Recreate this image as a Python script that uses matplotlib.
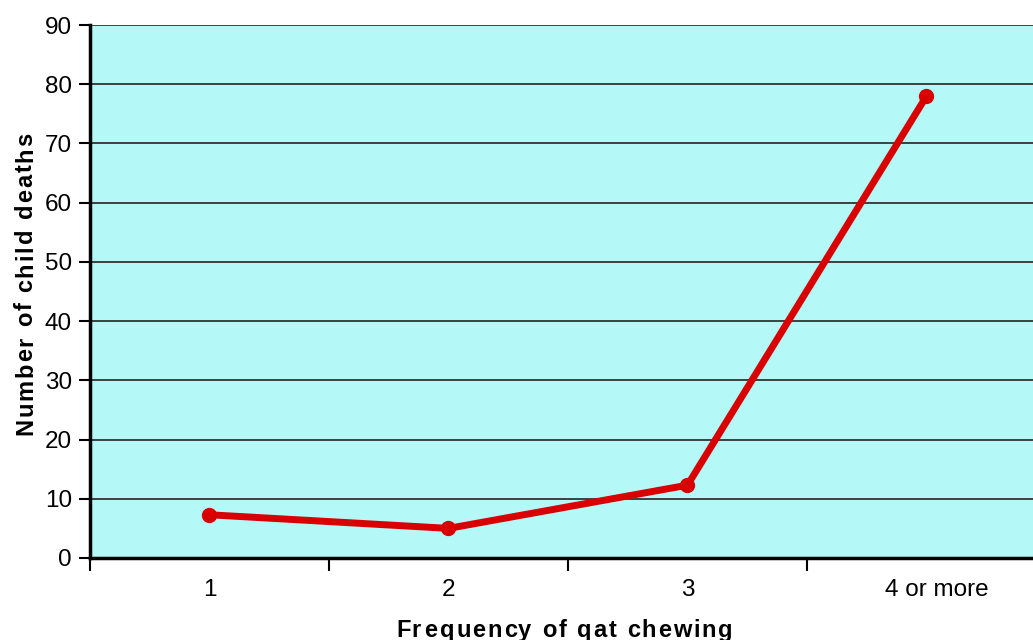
import matplotlib.pyplot as plt
from matplotlib.ticker import FixedLocator
from matplotlib.transforms import ScaledTranslation

# data
categories = ["1", "2", "3", "4 or more"]
deaths = [7.3, 5.0, 12.3, 78.0]
yticks = [0, 10, 20, 30, 40, 50, 60, 70, 80, 90]

W, H = 1033, 640
plt.rcParams["font.family"] = ["Liberation Sans", "DejaVu Sans"]

fig = plt.figure(figsize=(W / 100, H / 100), dpi=100)
ax = fig.add_axes([90 / W, (H - 558) / H, 956 / W, 533 / H])
ax.set_facecolor("#B4F8F8")

x = list(range(len(categories)))
ax.plot(x, deaths, color="#D90000", linewidth=5, marker="o", markersize=10,
        solid_capstyle="round", zorder=3)

ax.set_xlim(-0.5, len(categories) - 0.5)
ax.set_ylim(0, 90)
ax.set_yticks(yticks)
ax.set_xticks(x)
ax.set_xticklabels(categories)
ax.xaxis.set_minor_locator(FixedLocator([i - 0.5 for i in range(len(categories) + 1)]))

ax.tick_params(axis="x", which="major", length=0, pad=15, labelsize=17.5)
ax.tick_params(axis="x", which="minor", length=9, width=1.5, direction="out")
ax.tick_params(axis="y", length=8, width=1.5, pad=5, labelsize=17.5)

# last label sits a bit right of its point in the original
lab = ax.get_xticklabels()[-1]
lab.set_transform(lab.get_transform() + ScaledTranslation(0.1, 0, fig.dpi_scale_trans))

ax.yaxis.grid(True, color="#333333", linewidth=1.3)
ax.set_axisbelow(True)
for s in ["top", "right"]:
    ax.spines[s].set_visible(False)
for s in ["left", "bottom"]:
    ax.spines[s].set_linewidth(2.5)
    ax.spines[s].set_zorder(4)


def spaced_label(text, cx, cy, size, gap, vertical=False):
    # draw text one character at a time to get the wide letter spacing
    r = fig.canvas.get_renderer()
    props = dict(fontsize=size, fontweight="bold", color="black")

    def width(s):
        t = fig.text(0, 0, s + ".", **props)
        w = t.get_window_extent(r).width
        t.remove()
        return w

    dot = width("")
    adv = []
    prev = 0
    for i in range(1, len(text) + 1):
        w = width(text[:i]) - dot
        adv.append(w - prev)
        prev = w
    total = sum(adv) + gap * (len(text) - 1)
    pos = -total / 2
    for ch, a in zip(text, adv):
        if vertical:
            fig.text(cx / W, (H - cy + pos + a / 2) / H, ch, rotation=90,
                     ha="center", va="baseline", rotation_mode="anchor", **props)
        else:
            fig.text((cx + pos + a / 2) / W, (H - cy) / H, ch,
                     ha="center", va="baseline", **props)
        pos += a + gap


fig.canvas.draw()
spaced_label("Frequency of qat chewing", 565, 637, 17, 1.9)
spaced_label("Number of child deaths", 32, 284, 17, 1.9, vertical=True)

fig.savefig("out.png", dpi=100)
